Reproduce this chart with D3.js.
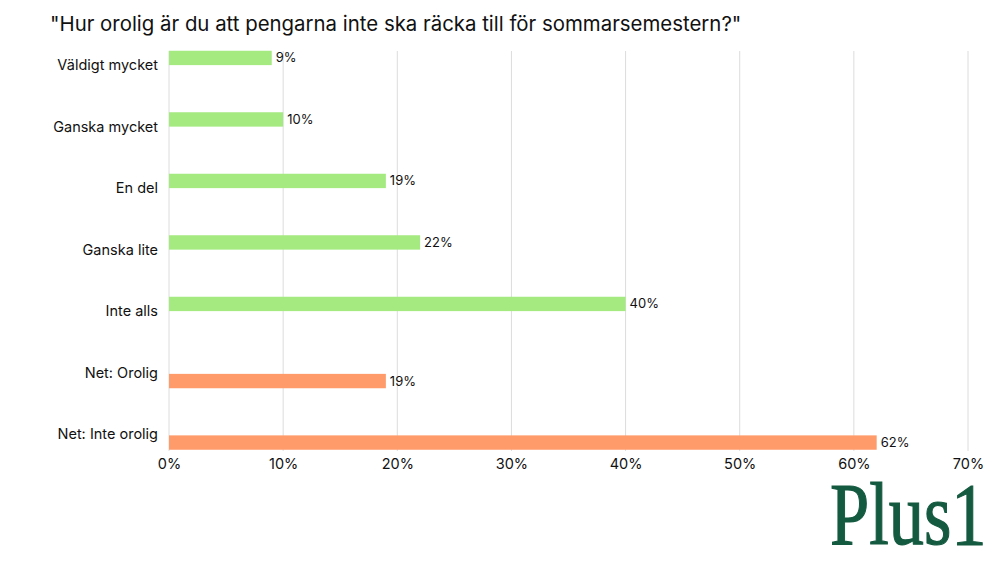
<!DOCTYPE html>
<html>
<head>
<meta charset="utf-8">
<script src="https://cdn.jsdelivr.net/npm/d3@7"></script>
<style>
  body { margin: 0; background: #fff; }
  text { font-family: Inter, "Noto Sans", sans-serif; }
</style>
</head>
<body>
<div id="chart"></div>
<script>
const categories = ["Väldigt mycket", "Ganska mycket", "En del", "Ganska lite", "Inte alls", "Net: Orolig", "Net: Inte orolig"];
const totalValues = [9, 10, 19, 22, 40, null, null];
const netValues = [null, null, null, null, null, 19, 62];
const xTicks = [0, 10, 20, 30, 40, 50, 60, 70];
const titleText = "\"Hur orolig är du att pengarna inte ska räcka till för sommarsemestern?\"";

const width = 1000;
const height = 563;

const svg = d3.select("#chart")
    .append("svg")
    .attr("width", width)
    .attr("height", height);

const x = d3.scaleLinear().domain([0, 70]).range([169, 968]);

const y = d3.scaleBand().domain(categories).range([35, 465.5]);

// two sub-slots per category: total above the centre, net below
const ySub = d3.scaleBand()
    .domain(["total", "net"])
    .range([y.bandwidth() / 2 - 15, y.bandwidth() / 2 + 15])
    .paddingInner(0.08);

const colors = { total: "#a5ea80", net: "#ff9b6b" };

// title
svg.append("text")
    .attr("x", 50)
    .attr("y", 31)
    .style("font-size", "20.4px")
    .style("fill", "#111")
    .text(titleText);

// grid lines
svg.append("g")
    .selectAll("line")
    .data(xTicks)
    .enter()
    .append("line")
    .attr("x1", (d) => x(d))
    .attr("x2", (d) => x(d))
    .attr("y1", 51)
    .attr("y2", 451)
    .style("stroke", "#dcdcdc")
    .style("stroke-width", 1);

// x axis labels
const xAxis = d3.axisBottom(x)
    .tickValues(xTicks)
    .tickFormat((d) => d + "%")
    .tickSize(0)
    .tickPadding(8);

const xg = svg.append("g")
    .attr("transform", "translate(0,451)")
    .call(xAxis);
xg.select(".domain").remove();
xg.selectAll("text")
    .style("font-family", "Inter, sans-serif")
    .style("font-size", "14.5px")
    .style("fill", "#111");

// y axis labels
const yAxis = d3.axisLeft(y).tickSize(0).tickPadding(11);
const yg = svg.append("g")
    .attr("transform", `translate(${x(0)},0)`)
    .call(yAxis);
yg.select(".domain").remove();
yg.selectAll("text")
    .style("font-family", "Inter, sans-serif")
    .style("font-size", "14.5px")
    .style("fill", "#111");

// bars
const rows = [];
categories.forEach((c, i) => {
    if (totalValues[i] != null) rows.push({ cat: c, key: "total", value: totalValues[i] });
    if (netValues[i] != null) rows.push({ cat: c, key: "net", value: netValues[i] });
});

svg.append("g")
    .selectAll("rect")
    .data(rows)
    .enter()
    .append("rect")
    .attr("x", x(0))
    .attr("y", (d) => y(d.cat) + ySub(d.key))
    .attr("width", (d) => x(d.value) - x(0))
    .attr("height", ySub.bandwidth())
    .style("fill", (d) => colors[d.key]);

// value labels
svg.append("g")
    .selectAll("text")
    .data(rows)
    .enter()
    .append("text")
    .attr("x", (d) => x(d.value) + 4)
    .attr("y", (d) => y(d.cat) + ySub(d.key) + ySub.bandwidth() / 2)
    .attr("dy", "0.35em")
    .style("font-size", "13px")
    .style("fill", "#111")
    .text((d) => d.value + "%");

// logo
svg.append("text")
    .attr("transform", "translate(830,544) scale(0.8,1)")
    .style("font-family", "'Liberation Serif', 'DejaVu Serif', serif")
    .style("font-size", "88px")
    .style("fill", "#145a40")
    .style("stroke", "#145a40")
    .style("stroke-width", 1.2)
    .text("Plus1");
</script>
</body>
</html>
